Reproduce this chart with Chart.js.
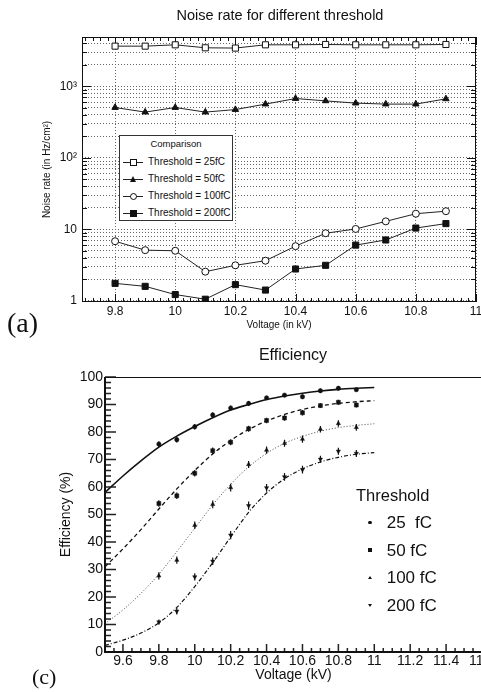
<!DOCTYPE html>
<html>
<head>
<meta charset="utf-8">
<title>Noise rate and efficiency vs voltage</title>
<script src="https://cdn.jsdelivr.net/npm/chart.js@4.4.1/dist/chart.umd.min.js"></script>
<style>
  html, body { margin: 0; padding: 0; background: #fff; }
  body {
    position: relative; width: 481px; height: 692px; overflow: hidden;
    font-family: 'Liberation Sans', Arial, Helvetica, sans-serif; color: #111;
  }
  canvas { position: absolute; left: 0; }
  #noiseChart { top: 0; }
  #effChart   { top: 340px; }

  .txt { position: absolute; white-space: nowrap; line-height: 1; }
  .ctr { transform: translateX(-50%); }
  .tag { font-family: 'Liberation Serif', 'Times New Roman', serif; }

  /* ─── legend of the noise plot ─── */
  #noiseLegend {
    position: absolute; left: 119px; top: 135px; width: 112px; height: 84px;
    border: 1px solid #333; background: #fff;
  }
  #noiseLegend .lg-title { position: absolute; left: 0; width: 100%; top: 3px; text-align: center; font-size: 9.5px; line-height: 10px; white-space: nowrap; }
  #noiseLegend .row  { position: absolute; left: 0; width: 100%; height: 12px; }
  #noiseLegend .line { position: absolute; left: 3px; top: 6px; width: 20px; border-top: 1px solid #222; }
  #noiseLegend .lbl  { position: absolute; left: 28px; top: 0; font-size: 10px; line-height: 12px; white-space: nowrap; }
  .mk { position: absolute; box-sizing: border-box; }
  .m-sq-open  { left: 10px; top: 3px; width: 7px; height: 7px; border: 1px solid #111; background: #fff; }
  .m-tri      { left: 10px; top: 3px; width: 0; height: 0; border-left: 3.5px solid transparent; border-right: 3.5px solid transparent; border-bottom: 6px solid #111; }
  .m-circ     { left: 10px; top: 3px; width: 7px; height: 7px; border: 1px solid #111; border-radius: 50%; background: #fff; }
  .m-sq       { left: 10px; top: 3px; width: 7px; height: 7px; background: #111; }

  /* ─── legend of the efficiency plot ─── */
  .em { position: absolute; box-sizing: border-box; }
  .e-dot  { left: 368px; top: 520.5px; width: 3.5px; height: 3.5px; border-radius: 50%; background: #111; }
  .e-sq   { left: 368px; top: 548px; width: 4px; height: 4px; background: #111; }
  .e-up   { left: 368px; top: 575.5px; width: 0; height: 0; border-left: 2px solid transparent; border-right: 2px solid transparent; border-bottom: 3.5px solid #111; }
  .e-down { left: 368px; top: 603.5px; width: 0; height: 0; border-left: 2px solid transparent; border-right: 2px solid transparent; border-top: 3.5px solid #111; }
</style>
</head>
<body>
<canvas id="noiseChart" width="490" height="340"></canvas>
<canvas id="effChart" width="500" height="352"></canvas>

<div class="txt ctr" style="left:280px; top:8.4px; font-size:14.5px;">Noise rate for different threshold</div>
<div class="txt ctr" style="left:293px; top:347.2px; font-size:16px;">Efficiency</div>
<div class="txt tag" style="left:7px; top:308.5px; font-size:28px;">(a)</div>
<div class="txt tag" style="left:32px; top:665.6px; font-size:22px;">(c)</div>

<div id="noiseLegend">
  <div class="lg-title">Comparison</div>
  <div class="row" style="top:20.3px"><span class="line"></span><span class="mk m-sq-open"></span><span class="lbl">Threshold = 25fC</span></div>
  <div class="row" style="top:37px"><span class="line"></span><span class="mk m-tri"></span><span class="lbl">Threshold = 50fC</span></div>
  <div class="row" style="top:53.8px"><span class="line"></span><span class="mk m-circ"></span><span class="lbl">Threshold = 100fC</span></div>
  <div class="row" style="top:70.7px"><span class="line"></span><span class="mk m-sq"></span><span class="lbl">Threshold = 200fC</span></div>
</div>

<div class="txt" style="left:356px; top:486.7px; font-size:16.5px;">Threshold</div>
<span class="em e-dot"></span><div class="txt" style="left:386.7px; top:513.9px; font-size:17px;">25&nbsp; fC</div>
<span class="em e-sq"></span><div class="txt" style="left:386.7px; top:541.6px; font-size:17px;">50 fC</div>
<span class="em e-up"></span><div class="txt" style="left:386.7px; top:568.9px; font-size:17px;">100 fC</div>
<span class="em e-down"></span><div class="txt" style="left:386.7px; top:596.6px; font-size:17px;">200 fC</div>

<script>
/* ─── Data: noise rate (Hz/cm²) ─────────────────── */
const VOLTAGES  = [9.8, 9.9, 10.0, 10.1, 10.2, 10.3, 10.4, 10.5, 10.6, 10.7, 10.8, 10.9];
const NOISE_25  = [3650, 3650, 3810, 3460, 3430, 3810, 3810, 3850, 3810, 3810, 3810, 3850];
const NOISE_50  = [505, 436, 505, 436, 473, 564, 675, 626, 582, 564, 564, 668];
const NOISE_100 = [6.8, 5.1, 5.0, 2.55, 3.13, 3.63, 5.8, 8.8, 10.1, 12.9, 16.5, 17.9];
const NOISE_200 = [1.75, 1.59, 1.22, 1.05, 1.68, 1.41, 2.78, 3.13, 6.0, 7.08, 10.4, 12.0];

const NOISE_X_TICKS   = [9.8, 10, 10.2, 10.4, 10.6, 10.8, 11];
const NOISE_Y_DECADES = [1, 10, 100, 1000];
const NOISE_Y_LABELS  = ['1', '10', '10²', '10³'];
const NOISE_Y_MIN = 0.96;
const NOISE_Y_MAX = 4900;

/* ─── Data: efficiency (%) ──────────────────────── */
const EFF_25  = [75.6, 77.2, 81.9, 86.2, 88.7, 90.4, 92.4, 93.4, 92.8, 95.0, 95.9, 95.4];
const EFF_50  = [54.0, 56.8, 65.0, 73.2, 76.3, 81.2, 84.2, 85.1, 87.0, 89.6, 90.8, 89.8];
const EFF_100 = [27.7, 33.4, 46.1, 53.7, 59.8, 68.2, 73.4, 75.9, 77.4, 81.0, 83.1, 81.7];
const EFF_200 = [10.9, 14.8, 27.3, 33.0, 42.5, 53.2, 59.7, 63.7, 66.3, 70.1, 73.0, 72.2];

const ERR_25  = [1.0, 1.0, 1.0, 1.0, 0.9, 0.9, 0.8, 0.8, 0.8, 0.7, 0.7, 0.7];
const ERR_50  = [1.2, 1.2, 1.2, 1.2, 1.1, 1.1, 1.0, 1.0, 1.0, 0.9, 0.9, 0.9];
const ERR_100 = [1.3, 1.3, 1.4, 1.4, 1.4, 1.3, 1.3, 1.3, 1.3, 1.2, 1.2, 1.2];
const ERR_200 = [0.9, 1.2, 1.3, 1.4, 1.5, 1.5, 1.4, 1.4, 1.4, 1.3, 1.3, 1.3];

// fitted curves, every 0.1 kV
const FIT_X   = [9.5, 9.6, 9.7, 9.8, 9.9, 10.0, 10.1, 10.2, 10.3, 10.4, 10.5, 10.6, 10.7, 10.8, 10.9, 11.0];
const FIT_25  = [58, 64, 69.5, 74.5, 78.5, 82, 85.2, 88, 90, 91.8, 93.1, 94.1, 94.9, 95.5, 95.9, 96.2];
const FIT_50  = [31, 37.5, 44.5, 52, 59.3, 66, 72, 76.9, 80.9, 84, 86.4, 88.2, 89.5, 90.4, 91.0, 91.4];
const FIT_100 = [10.3, 15.3, 21.3, 28.3, 36.5, 45, 53.5, 61, 67.3, 72.2, 75.9, 78.4, 80.3, 81.6, 82.4, 83.0];
const FIT_200 = [2.4, 4.3, 6.9, 10.6, 16.2, 23.8, 32.5, 41.8, 50.8, 57.8, 63.0, 66.6, 69.1, 70.8, 71.9, 72.5];

const EFF_X_TICKS = [9.6, 9.8, 10, 10.2, 10.4, 10.6, 10.8, 11, 11.2, 11.4, 11.6];
const EFF_Y_TICKS = [0, 10, 20, 30, 40, 50, 60, 70, 80, 90, 100];

/* ─── Setup ─────────────────────────────────────── */
Chart.defaults.font.family = "'Liberation Sans', Arial, Helvetica, sans-serif";
Chart.defaults.color = '#111';

const INK = '#111';

function xy(xs, ys) {
  return ys.map((y, i) => ({ x: xs[i], y }));
}

/* ─── Noise plot ────────────────────────────────── */
function noiseSeries(label, values, style, radius, fill) {
  return {
    label,
    data: xy(VOLTAGES, values),
    showLine: true,
    borderColor: '#222',
    borderWidth: 1,
    pointStyle: style,
    pointRadius: radius,
    pointBackgroundColor: fill,
    pointBorderColor: INK,
    pointBorderWidth: 1,
  };
}

// log grid: 1..9 of each decade, inside the axis range
const noiseGridValues = [];
NOISE_Y_DECADES.forEach(d => {
  for (let m = 1; m <= 9; m++) {
    const v = d * m;
    if (v >= NOISE_Y_MIN && v <= NOISE_Y_MAX) noiseGridValues.push(v);
  }
});

const noiseFrame = {
  id: 'noiseFrame',
  beforeDatasetsDraw(chart) {
    const { ctx, chartArea: a, scales: { x, y } } = chart;
    ctx.save();
    ctx.strokeStyle = INK;
    ctx.lineWidth = 1;
    ctx.strokeRect(a.left + 0.5, a.top + 0.5, a.right - a.left - 1, a.bottom - a.top - 1);

    ctx.beginPath();
    for (let k = 388; k <= 440; k++) {          // every 0.025 kV
      const v = k * 0.025;
      if (v < x.min || v > x.max) continue;
      const px = Math.round(x.getPixelForValue(v)) + 0.5;
      const len = k % 8 === 0 ? 8 : 4;
      ctx.moveTo(px, a.bottom); ctx.lineTo(px, a.bottom - len);
      ctx.moveTo(px, a.top);    ctx.lineTo(px, a.top + len);
    }
    noiseGridValues.forEach(v => {
      const py = Math.round(y.getPixelForValue(v)) + 0.5;
      const len = NOISE_Y_DECADES.includes(v) ? 9 : 5;
      ctx.moveTo(a.left, py);  ctx.lineTo(a.left + len, py);
      ctx.moveTo(a.right, py); ctx.lineTo(a.right - len, py);
    });
    ctx.stroke();
    ctx.restore();
  },
};

new Chart(document.getElementById('noiseChart'), {
  type: 'scatter',
  data: {
    datasets: [
      noiseSeries('Threshold = 25fC',  NOISE_25,  'rect',     4.3, '#fff'),
      noiseSeries('Threshold = 50fC',  NOISE_50,  'triangle', 3.7, INK),
      noiseSeries('Threshold = 100fC', NOISE_100, 'circle',   3.5, '#fff'),
      noiseSeries('Threshold = 200fC', NOISE_200, 'rect',     4.3, INK),
    ],
  },
  options: {
    responsive: false,
    animation: false,
    layout: { padding: { top: 37, right: 14, bottom: 0, left: 0 } },
    plugins: { legend: { display: false }, tooltip: { enabled: false } },
    scales: {
      x: {
        type: 'linear', min: 9.69, max: 11,
        afterBuildTicks: s => { s.ticks = NOISE_X_TICKS.map(v => ({ value: v })); },
        afterFit: s => { s.height = 38; },
        grid: { color: '#666', lineWidth: 1, drawTicks: false },
        border: { display: false, dash: [1, 2] },
        ticks: { font: { size: 12 }, padding: 2, autoSkip: false, maxRotation: 0, callback: v => String(v) },
        title: { display: true, text: 'Voltage (in kV)', font: { size: 10 }, padding: { top: 0, bottom: 9 } },
      },
      y: {
        type: 'logarithmic', min: NOISE_Y_MIN, max: NOISE_Y_MAX,
        afterBuildTicks: s => { s.ticks = noiseGridValues.map(v => ({ value: v })); },
        afterFit: s => { s.width = 82; },
        grid: { color: '#666', lineWidth: 1, drawTicks: false },
        border: { display: false, dash: [1, 2] },
        ticks: {
          font: { size: 12 }, padding: 5, autoSkip: false,
          callback: v => {
            const i = NOISE_Y_DECADES.indexOf(v);
            return i < 0 ? '' : NOISE_Y_LABELS[i];
          },
        },
        title: { display: true, text: 'Noise rate (in Hz/cm²)', font: { size: 10 }, padding: { top: 41, bottom: 0 } },
      },
    },
  },
  plugins: [noiseFrame],
});

/* ─── Efficiency plot ───────────────────────────── */
function effPoints(label, values, errs, style, radius, rotation) {
  return {
    label,
    data: xy(VOLTAGES, values),
    errorBars: errs,
    showLine: false,
    pointStyle: style,
    pointRotation: rotation || 0,
    pointRadius: radius,
    pointBackgroundColor: INK,
    pointBorderColor: INK,
    pointBorderWidth: 0.5,
  };
}

function effFit(values, width, dash, color) {
  return {
    label: 'fit',
    data: xy(FIT_X, values),
    showLine: true,
    pointRadius: 0,
    borderColor: color,
    borderWidth: width,
    borderDash: dash,
    cubicInterpolationMode: 'monotone',
  };
}

const effDecor = {
  id: 'effDecor',
  afterDatasetsDraw(chart) {
    const { ctx, scales: { x, y } } = chart;
    ctx.save();
    // error bars
    ctx.strokeStyle = INK;
    ctx.lineWidth = 1.2;
    chart.data.datasets.forEach(ds => {
      if (!ds.errorBars) return;
      ctx.beginPath();
      ds.data.forEach((p, j) => {
        const px = x.getPixelForValue(p.x);
        ctx.moveTo(px, y.getPixelForValue(p.y - ds.errorBars[j]));
        ctx.lineTo(px, y.getPixelForValue(p.y + ds.errorBars[j]));
      });
      ctx.stroke();
    });
    ctx.restore();
  },
  afterDraw(chart) {
    const { ctx, chartArea: a, scales: { x, y } } = chart;
    ctx.save();
    ctx.strokeStyle = '#222';
    ctx.lineWidth = 1.5;
    ctx.beginPath();
    for (let k = 190; k <= 232; k++) {          // every 0.05 kV
      const px = x.getPixelForValue(k * 0.05);
      const len = k % 4 === 0 ? 8 : 4;
      ctx.moveTo(px, a.bottom); ctx.lineTo(px, a.bottom - len);
    }
    for (let k = 0; k <= 50; k++) {             // every 2 %
      const py = y.getPixelForValue(k * 2);
      const len = k % 5 === 0 ? 11 : 6;
      ctx.moveTo(a.left, py); ctx.lineTo(a.left + len, py);
    }
    ctx.stroke();

    ctx.strokeStyle = INK;
    ctx.lineWidth = 2;
    ctx.beginPath();
    ctx.moveTo(a.left, a.top); ctx.lineTo(a.left, a.bottom); ctx.lineTo(a.right, a.bottom);
    ctx.stroke();
    ctx.lineWidth = 1;
    ctx.beginPath();
    ctx.moveTo(a.left, a.top + 0.5); ctx.lineTo(a.right, a.top + 0.5);
    ctx.stroke();
    ctx.restore();
  },
};

new Chart(document.getElementById('effChart'), {
  type: 'scatter',
  data: {
    datasets: [
      effFit(FIT_25,  1.6, [],           INK),
      effFit(FIT_50,  1.3, [4, 3],       INK),
      effFit(FIT_100, 1.0, [1, 2],       '#444'),
      effFit(FIT_200, 1.2, [4, 2, 1, 2], INK),
      effPoints('25 fC',  EFF_25,  ERR_25,  'circle',   2.2),
      effPoints('50 fC',  EFF_50,  ERR_50,  'rect',     2.8),
      effPoints('100 fC', EFF_100, ERR_100, 'triangle', 2.4),
      effPoints('200 fC', EFF_200, ERR_200, 'triangle', 2.4, 180),
    ],
  },
  options: {
    responsive: false,
    animation: false,
    layout: { padding: { top: 37, right: 18, bottom: 0, left: 0 } },
    plugins: { legend: { display: false }, tooltip: { enabled: false } },
    scales: {
      x: {
        type: 'linear', min: 9.5, max: 11.6,
        afterBuildTicks: s => { s.ticks = EFF_X_TICKS.map(v => ({ value: v })); },
        afterFit: s => { s.height = 40; },
        grid: { display: false, drawTicks: false },
        border: { display: false },
        ticks: { font: { size: 14 }, padding: 1, autoSkip: false, maxRotation: 0, callback: v => String(v) },
        title: { display: true, text: 'Voltage (kV)', font: { size: 14 }, padding: { top: 0, bottom: 8.5 } },
      },
      y: {
        type: 'linear', min: 0, max: 100,
        afterBuildTicks: s => { s.ticks = EFF_Y_TICKS.map(v => ({ value: v })); },
        afterFit: s => { s.width = 105; },
        grid: { display: false, drawTicks: false },
        border: { display: false },
        ticks: { font: { size: 14 }, padding: 2, autoSkip: false },
        title: { display: true, text: 'Efficiency (%)', font: { size: 14 }, padding: { top: 57.6, bottom: 0 } },
      },
    },
  },
  plugins: [effDecor],
});
</script>
</body>
</html>
